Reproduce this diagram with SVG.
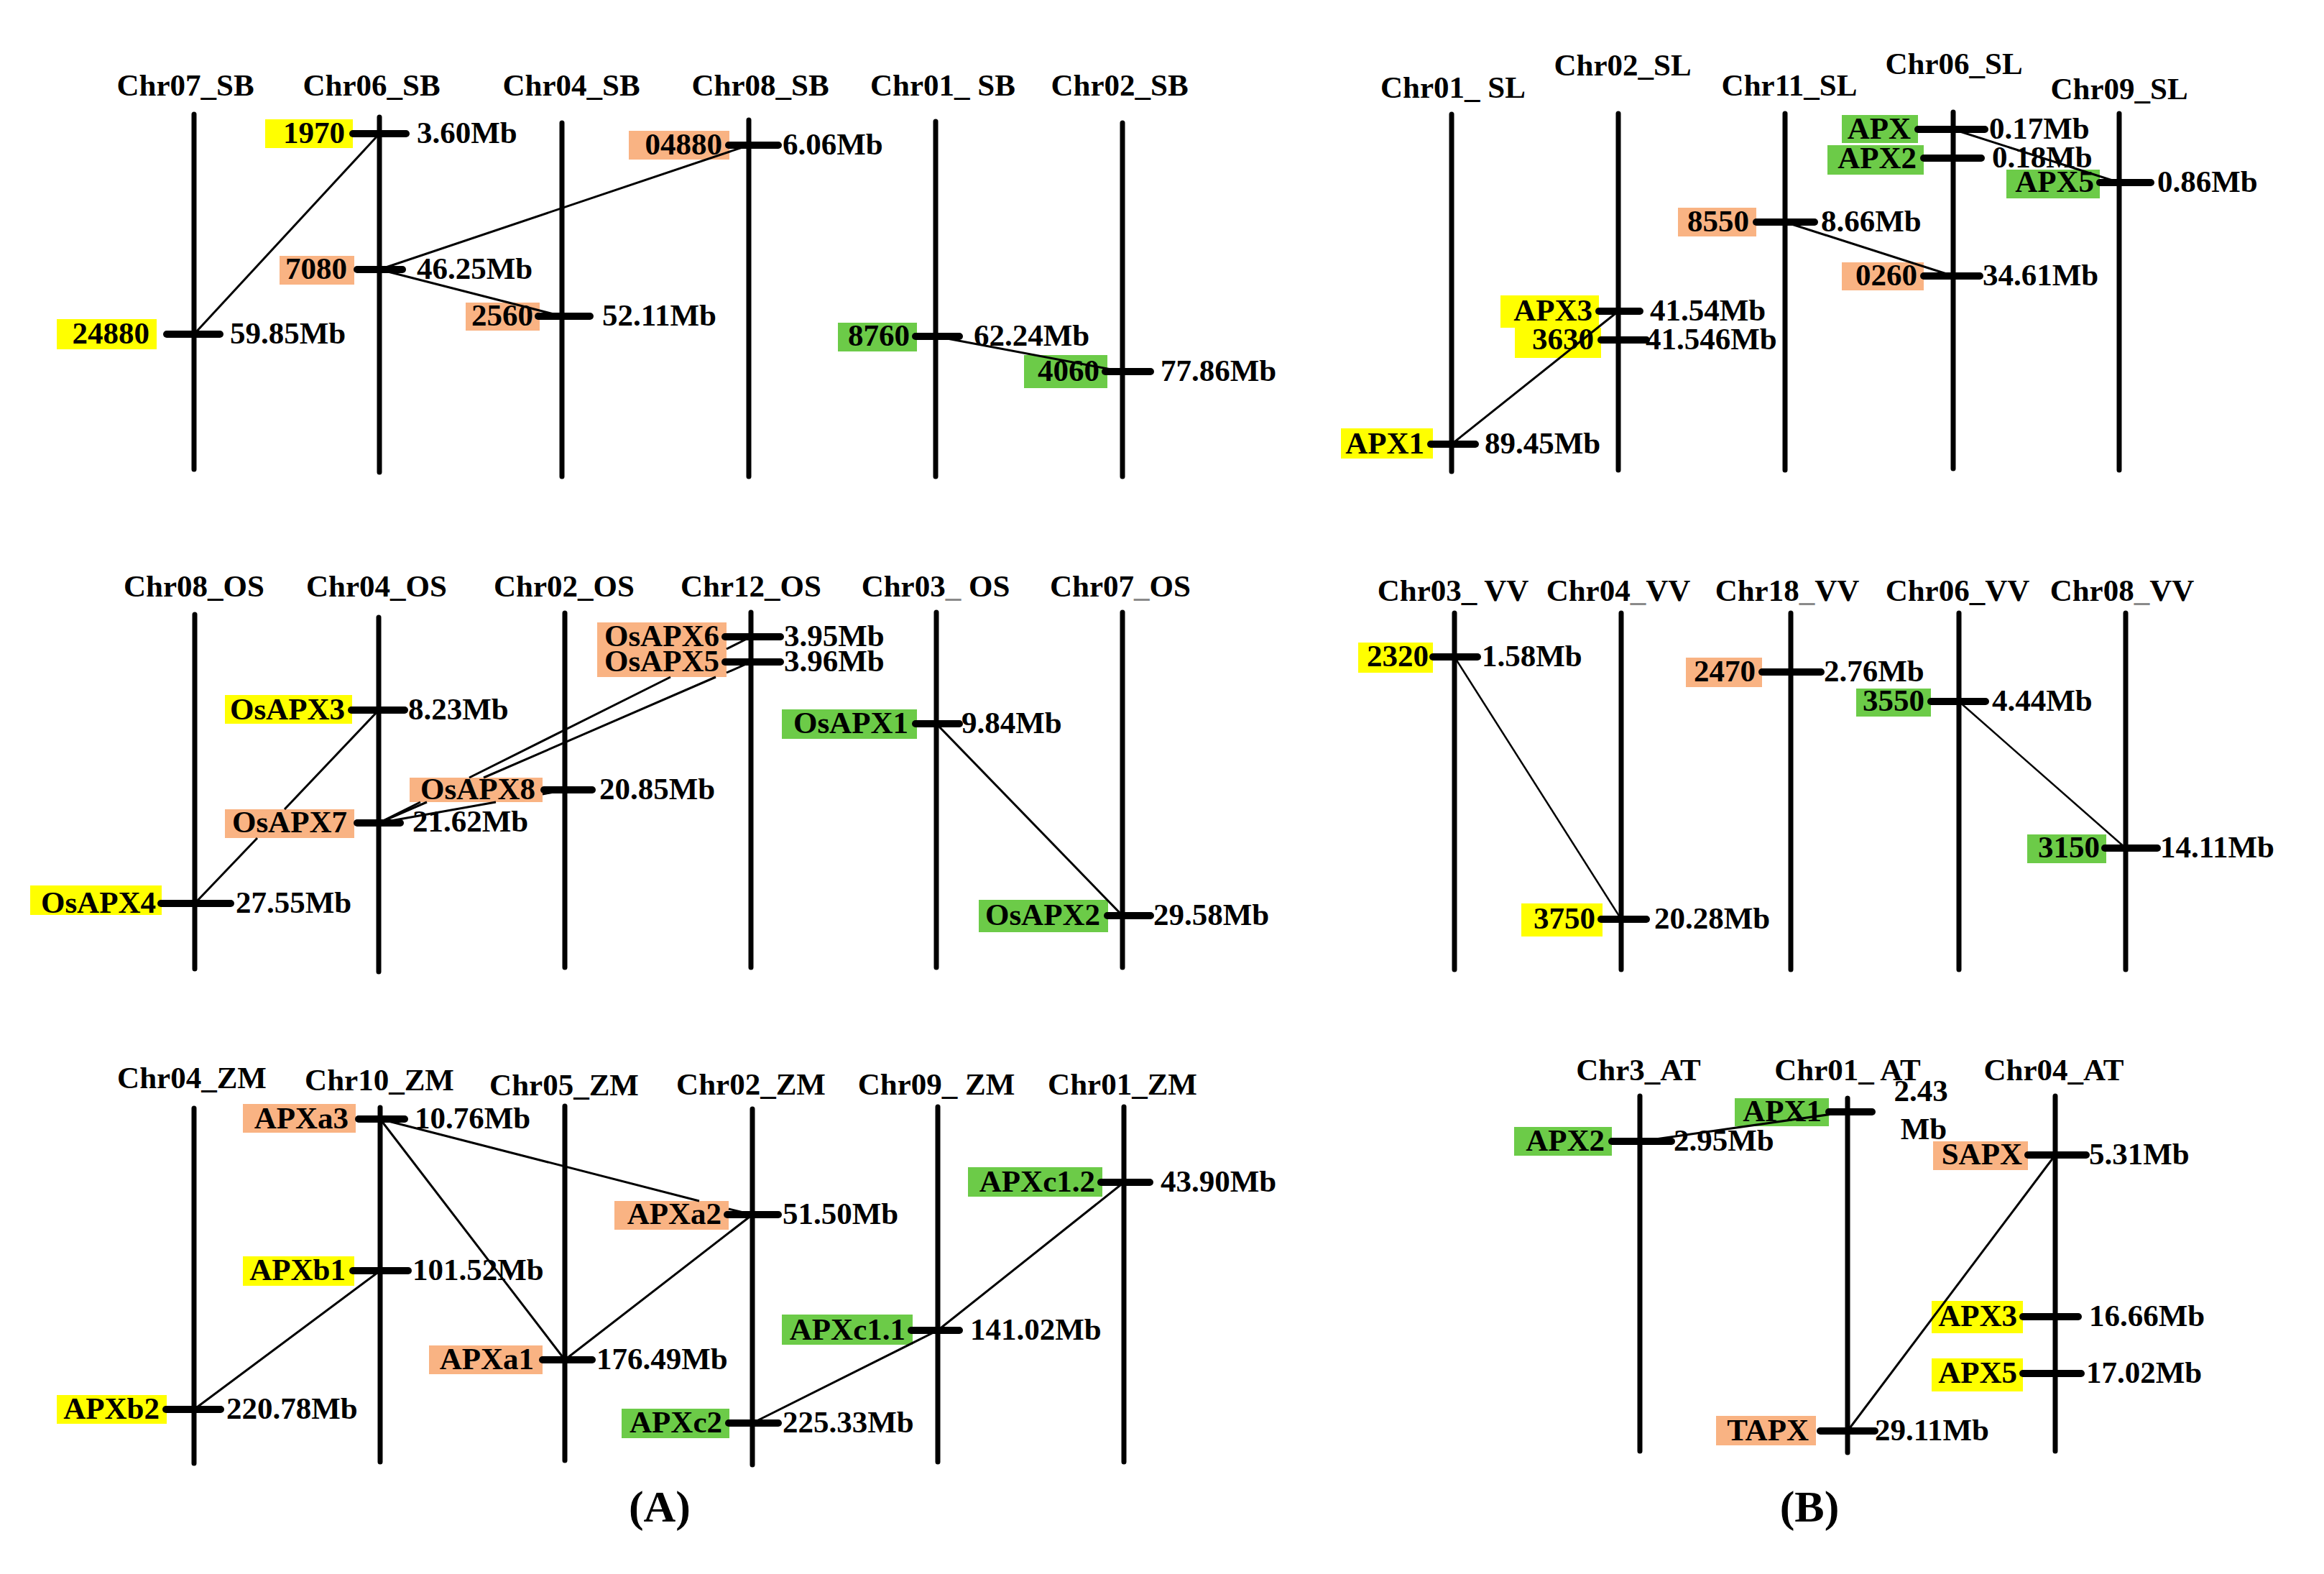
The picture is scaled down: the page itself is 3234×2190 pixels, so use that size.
<svg xmlns="http://www.w3.org/2000/svg" width="3234" height="2190" viewBox="0 0 3234 2190">
<style>
.chr{stroke:#000;stroke-width:7;stroke-linecap:round}
.tick{stroke:#000;stroke-width:10;stroke-linecap:round}
.link{stroke:#000;stroke-width:3;fill:none}
.thin{stroke-width:2.5}
.t{font-family:"Liberation Serif","Times New Roman",serif;font-weight:bold;font-size:43px;fill:#000}
.title{text-anchor:middle}
.lbl{text-anchor:end}
.big{font-size:62px;text-anchor:middle}
.y{fill:#FFFF00}.o{fill:#F9B383}.g{fill:#6CCB48}
.gr{fill:#8a8a8a}
</style>
<rect width="3234" height="2190" fill="#fff"/>

<!-- ===== Chromosomes ===== -->
<g id="chromosomes">
<g id="chr07_sb"><text class="t title" x="258" y="133">Chr07_SB</text><line class="chr" x1="270" y1="159" x2="270" y2="653"/></g>
<g id="chr06_sb"><text class="t title" x="517" y="133">Chr06_SB</text><line class="chr" x1="528" y1="163" x2="528" y2="657"/></g>
<g id="chr04_sb"><text class="t title" x="795" y="133">Chr04_SB</text><line class="chr" x1="782" y1="171" x2="782" y2="663"/></g>
<g id="chr08_sb"><text class="t title" x="1058" y="133">Chr08_SB</text><line class="chr" x1="1042" y1="167" x2="1042" y2="663"/></g>
<g id="chr01_sb"><text class="t title" x="1312" y="133">Chr01_ SB</text><line class="chr" x1="1302" y1="169" x2="1302" y2="663"/></g>
<g id="chr02_sb"><text class="t title" x="1558" y="133">Chr02_SB</text><line class="chr" x1="1562" y1="171" x2="1562" y2="663"/></g>

<g id="chr08_os"><text class="t title" x="270" y="830">Chr08_OS</text><line class="chr" x1="271" y1="855" x2="271" y2="1348"/></g>
<g id="chr04_os"><text class="t title" x="524" y="830">Chr04_OS</text><line class="chr" x1="527" y1="859" x2="527" y2="1352"/></g>
<g id="chr02_os"><text class="t title" x="785" y="830">Chr02_OS</text><line class="chr" x1="786" y1="853" x2="786" y2="1346"/></g>
<g id="chr12_os"><text class="t title" x="1045" y="830">Chr12_OS</text><line class="chr" x1="1045" y1="852" x2="1045" y2="1346"/></g>
<g id="chr03_os"><text class="t title" x="1302" y="830">Chr03<tspan class="gr">_</tspan> OS</text><line class="chr" x1="1303" y1="852" x2="1303" y2="1346"/></g>
<g id="chr07_os"><text class="t title" x="1559" y="830">Chr07<tspan class="gr">_</tspan>OS</text><line class="chr" x1="1562" y1="852" x2="1562" y2="1346"/></g>

<g id="chr04_zm"><text class="t title" x="267" y="1514">Chr04_ZM</text><line class="chr" x1="270" y1="1542" x2="270" y2="2036"/></g>
<g id="chr10_zm"><text class="t title" x="528" y="1517">Chr10_ZM</text><line class="chr" x1="529" y1="1541" x2="529" y2="2034"/></g>
<g id="chr05_zm"><text class="t title" x="785" y="1524">Chr05_ZM</text><line class="chr" x1="786" y1="1539" x2="786" y2="2032"/></g>
<g id="chr02_zm"><text class="t title" x="1045" y="1523">Chr02_ZM</text><line class="chr" x1="1047" y1="1543" x2="1047" y2="2038"/></g>
<g id="chr09_zm"><text class="t title" x="1303" y="1523">Chr09_ ZM</text><line class="chr" x1="1305" y1="1540" x2="1305" y2="2034"/></g>
<g id="chr01_zm"><text class="t title" x="1562" y="1523">Chr01_ZM</text><line class="chr" x1="1564" y1="1540" x2="1564" y2="2034"/></g>

<g id="chr01_sl"><text class="t title" x="2022" y="136">Chr01_ SL</text><line class="chr" x1="2020" y1="159" x2="2020" y2="656"/></g>
<g id="chr02_sl"><text class="t title" x="2258" y="105">Chr02_SL</text><line class="chr" x1="2252" y1="158" x2="2252" y2="654"/></g>
<g id="chr11_sl"><text class="t title" x="2490" y="133">Chr11_SL</text><line class="chr" x1="2484" y1="158" x2="2484" y2="654"/></g>
<g id="chr06_sl"><text class="t title" x="2719" y="103">Chr06_SL</text><line class="chr" x1="2718" y1="156" x2="2718" y2="652"/></g>
<g id="chr09_sl"><text class="t title" x="2949" y="138">Chr09_SL</text><line class="chr" x1="2949" y1="158" x2="2949" y2="654"/></g>

<g id="chr03_vv"><text class="t title" x="2022" y="836">Chr03_ VV</text><line class="chr" x1="2024" y1="853" x2="2024" y2="1349"/></g>
<g id="chr04_vv"><text class="t title" x="2252" y="836">Chr04<tspan class="gr">_</tspan>VV</text><line class="chr" x1="2256" y1="853" x2="2256" y2="1349"/></g>
<g id="chr18_vv"><text class="t title" x="2487" y="836">Chr18<tspan class="gr">_</tspan>VV</text><line class="chr" x1="2492" y1="853" x2="2492" y2="1349"/></g>
<g id="chr06_vv"><text class="t title" x="2724" y="836">Chr06_VV</text><line class="chr" x1="2726" y1="853" x2="2726" y2="1349"/></g>
<g id="chr08_vv"><text class="t title" x="2953" y="836">Chr08<tspan class="gr">_</tspan>VV</text><line class="chr" x1="2958" y1="853" x2="2958" y2="1349"/></g>

<g id="chr3_at"><text class="t title" x="2280" y="1503">Chr3_AT</text><line class="chr" x1="2282" y1="1525" x2="2282" y2="2019"/></g>
<g id="chr01_at"><text class="t title" x="2571" y="1503">Chr01_ AT</text><line class="chr" x1="2571" y1="1528" x2="2571" y2="2021"/></g>
<g id="chr04_at"><text class="t title" x="2858" y="1503">Chr04_AT</text><line class="chr" x1="2860" y1="1525" x2="2860" y2="2019"/></g>
</g>

<!-- ===== Genes ===== -->
<g id="genes">
<g id="sb_1970"><rect class="y" x="369" y="166" width="122" height="40"/><text class="t lbl" x="480" y="199">1970</text><line class="tick" x1="491" y1="186" x2="565" y2="186"/><text class="t" x="580" y="199">3.60Mb</text></g>
<g id="sb_7080"><rect class="o" x="389" y="356" width="104" height="40"/><text class="t lbl" x="483" y="388">7080</text><line class="tick" x1="497" y1="375" x2="560" y2="375"/><text class="t" x="580" y="388">46.25Mb</text></g>
<g id="sb_2560"><rect class="o" x="648" y="421" width="103" height="39"/><text class="t lbl" x="742" y="453">2560</text><line class="tick" x1="749" y1="440" x2="821" y2="440"/><text class="t" x="838" y="453">52.11Mb</text></g>
<g id="sb_24880"><rect class="y" x="79" y="444" width="139" height="42"/><text class="t lbl" x="208" y="478">24880</text><line class="tick" x1="232" y1="465" x2="306" y2="465"/><text class="t" x="320" y="478">59.85Mb</text></g>
<g id="sb_04880"><rect class="o" x="875" y="182" width="140" height="40"/><text class="t lbl" x="1005" y="215">04880</text><line class="tick" x1="1014" y1="202" x2="1083" y2="202"/><text class="t" x="1089" y="215">6.06Mb</text></g>
<g id="sb_8760"><rect class="g" x="1166" y="449" width="110" height="40"/><text class="t lbl" x="1266" y="481">8760</text><line class="tick" x1="1274" y1="468" x2="1335" y2="468"/><text class="t" x="1355" y="481">62.24Mb</text></g>
<g id="sb_4060"><rect class="g" x="1425" y="494" width="116" height="46"/><text class="t lbl" x="1530" y="530">4060</text><line class="tick" x1="1538" y1="517" x2="1601" y2="517"/><text class="t" x="1615" y="530">77.86Mb</text></g>

<g id="os_apx3"><rect class="y" x="313" y="967" width="177" height="40"/><text class="t lbl" x="480" y="1001">OsAPX3</text><line class="tick" x1="489" y1="988" x2="563" y2="988"/><text class="t" x="568" y="1001">8.23Mb</text></g>
<g id="os_apx7"><rect class="o" x="313" y="1126" width="180" height="40"/><text class="t lbl" x="483" y="1158">OsAPX7</text><line class="tick" x1="497" y1="1145" x2="557" y2="1145"/><text class="t" x="574" y="1157">21.62Mb</text></g>
<g id="os_apx4"><rect class="y" x="42" y="1232" width="183" height="41"/><text class="t lbl" x="217" y="1270">OsAPX4</text><line class="tick" x1="224" y1="1257" x2="321" y2="1257"/><text class="t" x="328" y="1270">27.55Mb</text></g>
<g id="os_apx8"><rect class="o" x="570" y="1082" width="185" height="34"/><text class="t lbl" x="745" y="1112">OsAPX8</text><line class="tick" x1="757" y1="1099" x2="824" y2="1099"/><text class="t" x="834" y="1112">20.85Mb</text></g>
<g id="os_apx6"><rect class="o" x="831" y="866" width="180" height="38"/><text class="t lbl" x="1001" y="899">OsAPX6</text><line class="tick" x1="1009" y1="886" x2="1086" y2="886"/><text class="t" x="1091" y="899">3.95Mb</text></g>
<g id="os_apx5"><rect class="o" x="831" y="904" width="180" height="38"/><text class="t lbl" x="1001" y="934">OsAPX5</text><line class="tick" x1="1009" y1="921" x2="1086" y2="921"/><text class="t" x="1091" y="934">3.96Mb</text></g>
<g id="os_apx1"><rect class="g" x="1088" y="987" width="188" height="41"/><text class="t lbl" x="1264" y="1020">OsAPX1</text><line class="tick" x1="1274" y1="1007" x2="1335" y2="1007"/><text class="t" x="1338" y="1020">9.84Mb</text></g>
<g id="os_apx2"><rect class="g" x="1362" y="1252" width="180" height="45"/><text class="t lbl" x="1531" y="1287">OsAPX2</text><line class="tick" x1="1541" y1="1274" x2="1601" y2="1274"/><text class="t" x="1605" y="1287">29.58Mb</text></g>

<g id="zm_apxa3"><rect class="o" x="338" y="1536" width="157" height="40"/><text class="t lbl" x="485" y="1570">APXa3</text><line class="tick" x1="499" y1="1557" x2="563" y2="1557"/><text class="t" x="577" y="1570">10.76Mb</text></g>
<g id="zm_apxb1"><rect class="y" x="338" y="1748" width="155" height="41"/><text class="t lbl" x="481" y="1781">APXb1</text><line class="tick" x1="491" y1="1768" x2="568" y2="1768"/><text class="t" x="574" y="1781">101.52Mb</text></g>
<g id="zm_apxa1"><rect class="o" x="597" y="1872" width="158" height="40"/><text class="t lbl" x="743" y="1905">APXa1</text><line class="tick" x1="755" y1="1892" x2="824" y2="1892"/><text class="t" x="830" y="1905">176.49Mb</text></g>
<g id="zm_apxb2"><rect class="y" x="79" y="1941" width="153" height="40"/><text class="t lbl" x="222" y="1974">APXb2</text><line class="tick" x1="231" y1="1961" x2="307" y2="1961"/><text class="t" x="315" y="1974">220.78Mb</text></g>
<g id="zm_apxa2"><rect class="o" x="855" y="1671" width="159" height="40"/><text class="t lbl" x="1004" y="1703">APXa2</text><line class="tick" x1="1012" y1="1690" x2="1083" y2="1690"/><text class="t" x="1089" y="1703">51.50Mb</text></g>
<g id="zm_apxc12"><rect class="g" x="1347" y="1624" width="187" height="41"/><text class="t lbl" x="1524" y="1658">APXc1.2</text><line class="tick" x1="1532" y1="1645" x2="1600" y2="1645"/><text class="t" x="1615" y="1658">43.90Mb</text></g>
<g id="zm_apxc11"><rect class="g" x="1088" y="1829" width="182" height="42"/><text class="t lbl" x="1260" y="1864">APXc1.1</text><line class="tick" x1="1268" y1="1851" x2="1335" y2="1851"/><text class="t" x="1350" y="1864">141.02Mb</text></g>
<g id="zm_apxc2"><rect class="g" x="865" y="1960" width="150" height="41"/><text class="t lbl" x="1005" y="1993">APXc2</text><line class="tick" x1="1014" y1="1980" x2="1083" y2="1980"/><text class="t" x="1089" y="1993">225.33Mb</text></g>

<g id="sl_apx"><rect class="g" x="2563" y="160" width="106" height="39"/><text class="t lbl" x="2659" y="193">APX</text><line class="tick" x1="2669" y1="180" x2="2762" y2="180"/><text class="t" x="2768" y="193">0.17Mb</text></g>
<g id="sl_apx2"><rect class="g" x="2543" y="202" width="134" height="41"/><text class="t lbl" x="2667" y="234">APX2</text><line class="tick" x1="2677" y1="220" x2="2757" y2="220"/><text class="t" x="2772" y="233">0.18Mb</text></g>
<g id="sl_apx5"><rect class="g" x="2792" y="236" width="130" height="40"/><text class="t lbl" x="2914" y="267">APX5</text><line class="tick" x1="2922" y1="254" x2="2993" y2="254"/><text class="t" x="3002" y="267">0.86Mb</text></g>
<g id="sl_8550"><rect class="o" x="2335" y="289" width="109" height="40"/><text class="t lbl" x="2434" y="322">8550</text><line class="tick" x1="2444" y1="309" x2="2525" y2="309"/><text class="t" x="2534" y="322">8.66Mb</text></g>
<g id="sl_0260"><rect class="o" x="2563" y="365" width="114" height="39"/><text class="t lbl" x="2668" y="397">0260</text><line class="tick" x1="2677" y1="384" x2="2755" y2="384"/><text class="t" x="2759" y="397">34.61Mb</text></g>
<g id="sl_apx3"><rect class="y" x="2088" y="411" width="137" height="45"/><text class="t lbl" x="2216" y="446">APX3</text><line class="tick" x1="2225" y1="433" x2="2282" y2="433"/><text class="t" x="2296" y="446">41.54Mb</text></g>
<g id="sl_3630"><rect class="y" x="2108" y="456" width="120" height="42"/><text class="t lbl" x="2218" y="486">3630</text><line class="tick" x1="2228" y1="473" x2="2291" y2="473"/><text class="t" x="2290" y="486">41.546Mb</text></g>
<g id="sl_apx1"><rect class="y" x="1866" y="596" width="128" height="42"/><text class="t lbl" x="1982" y="631">APX1</text><line class="tick" x1="1991" y1="618" x2="2053" y2="618"/><text class="t" x="2066" y="631">89.45Mb</text></g>

<g id="vv_2320"><rect class="y" x="1890" y="894" width="104" height="42"/><text class="t lbl" x="1988" y="927">2320</text><line class="tick" x1="1994" y1="914" x2="2056" y2="914"/><text class="t" x="2062" y="927">1.58Mb</text></g>
<g id="vv_2470"><rect class="o" x="2346" y="915" width="106" height="41"/><text class="t lbl" x="2443" y="948">2470</text><line class="tick" x1="2452" y1="935" x2="2534" y2="935"/><text class="t" x="2538" y="948">2.76Mb</text></g>
<g id="vv_3550"><rect class="g" x="2583" y="958" width="104" height="39"/><text class="t lbl" x="2678" y="989">3550</text><line class="tick" x1="2687" y1="976" x2="2763" y2="976"/><text class="t" x="2772" y="989">4.44Mb</text></g>
<g id="vv_3150"><rect class="g" x="2821" y="1161" width="110" height="40"/><text class="t lbl" x="2922" y="1193">3150</text><line class="tick" x1="2929" y1="1180" x2="3002" y2="1180"/><text class="t" x="3006" y="1193">14.11Mb</text></g>
<g id="vv_3750"><rect class="y" x="2117" y="1257" width="113" height="46"/><text class="t lbl" x="2220" y="1292">3750</text><line class="tick" x1="2228" y1="1279" x2="2291" y2="1279"/><text class="t" x="2302" y="1292">20.28Mb</text></g>

<g id="at_apx2"><rect class="g" x="2107" y="1568" width="136" height="40"/><text class="t lbl" x="2233" y="1601">APX2</text><line class="tick" x1="2243" y1="1588" x2="2326" y2="1588"/><text class="t" x="2329" y="1601">2.95Mb</text></g>
<g id="at_apx1"><rect class="g" x="2414" y="1528" width="131" height="39"/><text class="t lbl" x="2535" y="1560">APX1</text><line class="tick" x1="2545" y1="1547" x2="2605" y2="1547"/><text class="t title" x="2673" y="1532">2.43</text><text class="t title" x="2677" y="1585">Mb</text></g>
<g id="at_sapx"><rect class="o" x="2690" y="1588" width="132" height="40"/><text class="t lbl" x="2814" y="1620">SAPX</text><line class="tick" x1="2822" y1="1607" x2="2903" y2="1607"/><text class="t" x="2907" y="1620">5.31Mb</text></g>
<g id="at_apx3"><rect class="y" x="2688" y="1810" width="127" height="45"/><text class="t lbl" x="2807" y="1845">APX3</text><line class="tick" x1="2815" y1="1832" x2="2892" y2="1832"/><text class="t" x="2907" y="1845">16.66Mb</text></g>
<g id="at_apx5"><rect class="y" x="2688" y="1890" width="127" height="46"/><text class="t lbl" x="2807" y="1924">APX5</text><line class="tick" x1="2815" y1="1911" x2="2896" y2="1911"/><text class="t" x="2903" y="1924">17.02Mb</text></g>
<g id="at_tapx"><rect class="o" x="2388" y="1970" width="139" height="41"/><text class="t lbl" x="2517" y="2004">TAPX</text><line class="tick" x1="2533" y1="1991" x2="2609" y2="1991"/><text class="t" x="2609" y="2004">29.11Mb</text></g>
</g>

<!-- ===== Connectors ===== -->
<g id="connectors">
<path class="link" d="M270,465 L528,186"/>
<path class="link" d="M528,375 L1042,202"/>
<path class="link" d="M528,375 L782,440"/>
<path class="link" d="M1302,468 L1562,517"/>

<path class="link" d="M527,988 L396,1126 M358,1166 L271,1257"/>
<path class="link" d="M527,1145 L585,1116 M653,1082 L933,942 M1011,903 L1045,886"/>
<path class="link" d="M527,1145 L594,1116 M673,1082 L996,942 M1011,936 L1045,921"/>
<path class="link" d="M527,1145 L690,1116 M755,1105 L786,1099"/>
<path class="link" d="M1303,1007 L1562,1274"/>

<path class="link" d="M529,1557 L973,1671 M1014,1682 L1047,1690"/>
<path class="link" d="M529,1557 L786,1892"/>
<path class="link" d="M529,1768 L270,1961"/>
<path class="link" d="M786,1892 L1047,1690"/>
<path class="link" d="M1564,1645 L1305,1851"/>
<path class="link" d="M1305,1851 L1047,1980"/>

<path class="link" d="M2020,618 L2252,433"/>
<path class="link" d="M2484,309 L2718,384"/>
<path class="link" d="M2718,180 L2949,254"/>

<path class="link thin" d="M2024,914 L2256,1279"/>
<path class="link thin" d="M2726,976 L2958,1180"/>

<path class="link" d="M2282,1588 L2571,1547"/>
<path class="link" d="M2571,1991 L2860,1607"/>
</g>

<text class="t big" x="918" y="2117">(A)</text>
<text class="t big" x="2518" y="2117">(B)</text>
</svg>
